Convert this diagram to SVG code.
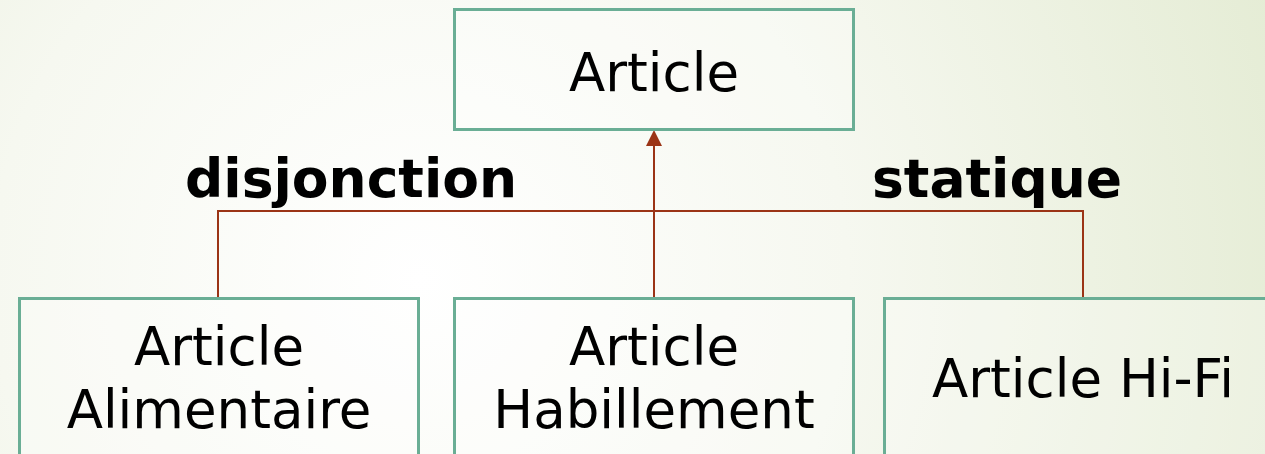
<svg xmlns="http://www.w3.org/2000/svg" width="1265" height="454" viewBox="0 0 1265 454">
  <defs>
    <radialGradient id="bg" cx="420" cy="280" r="950" gradientUnits="userSpaceOnUse">
      <stop offset="0" stop-color="#ffffff"/>
      <stop offset="0.45" stop-color="#f6f8f0"/>
      <stop offset="1" stop-color="#e3ebd2"/>
    </radialGradient>
    <style>
      .box { fill: #ffffff; fill-opacity: 0.25; stroke: #6aae95; stroke-width: 3; }
      .lbl { font-family: "DejaVu Sans", Verdana, sans-serif; font-size: 53px; fill: #000; text-anchor: middle; }
      .bold { font-family: "DejaVu Sans", Verdana, sans-serif; font-size: 53.5px; font-weight: bold; fill: #000; }
      .conn { stroke: #9b3416; stroke-width: 2; fill: none; }
      .head { fill: #9b3416; }
    </style>
  </defs>
  <rect x="0" y="0" width="1265" height="454" fill="url(#bg)"/>

  <g id="connectors">
    <path class="conn" d="M218,298 V211 H1083 V298"/>
    <path class="conn" d="M654,298 V144"/>
    <polygon class="head" points="654,130 646,146 662,146"/>
  </g>

  <g id="node-article">
    <rect class="box" x="454.5" y="9.5" width="399" height="120"/>
    <text class="lbl" x="654" y="91">Article</text>
  </g>

  <g id="node-alimentaire">
    <rect class="box" x="19.5" y="298.5" width="399" height="170"/>
    <text class="lbl" x="219" y="365">Article</text>
    <text class="lbl" x="219" y="428">Alimentaire</text>
  </g>

  <g id="node-habillement">
    <rect class="box" x="454.5" y="298.5" width="399" height="170"/>
    <text class="lbl" x="654" y="365">Article</text>
    <text class="lbl" x="654" y="428">Habillement</text>
  </g>

  <g id="node-hifi">
    <rect class="box" x="884.5" y="298.5" width="399" height="170"/>
    <text class="lbl" x="1083" y="397">Article Hi-Fi</text>
  </g>

  <g id="labels">
    <text class="bold" x="185" y="197">disjonction</text>
    <text class="bold" x="872" y="197">statique</text>
  </g>
</svg>
